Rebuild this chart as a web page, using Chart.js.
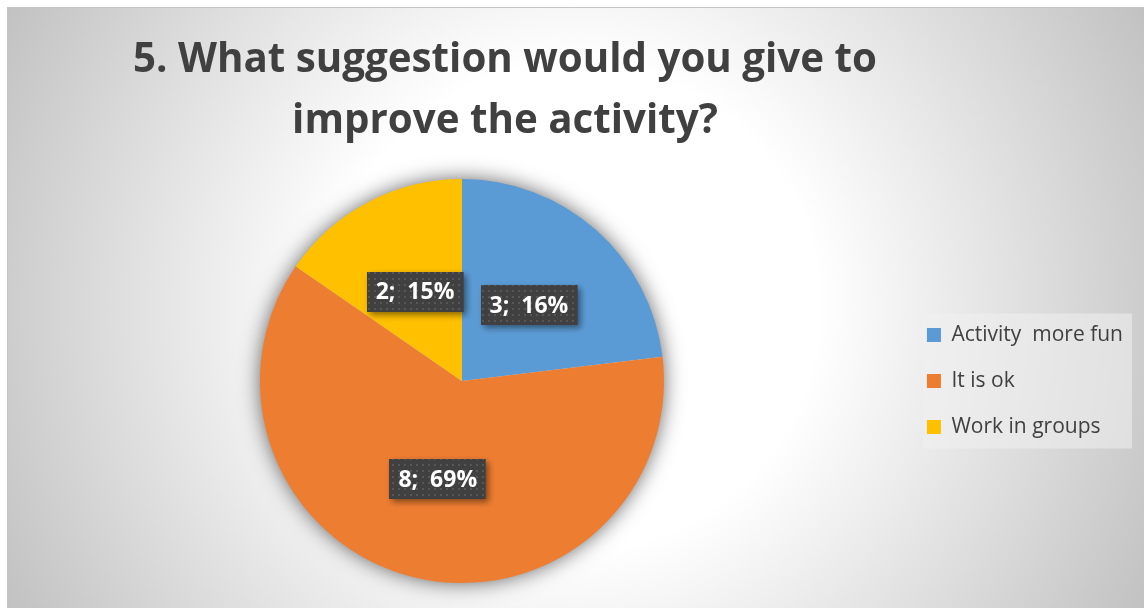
<!DOCTYPE html>
<html>
<head>
<meta charset="utf-8">
<script src="https://cdn.jsdelivr.net/npm/chart.js@4.4.1/dist/chart.umd.min.js"></script>
<style>
  html, body { margin: 0; padding: 0; background: #ffffff; }
  canvas { display: block; }
</style>
</head>
<body>
<canvas id="suggestionChart" width="1144" height="608"></canvas>
<script>
// Survey answers for question 5
const categories = ['Activity  more fun', 'It is ok', 'Work in groups'];
const counts = [3, 8, 2];
const percentText = ['16%', '69%', '15%'];
const sliceColors = ['#5B9BD5', '#ED7D31', '#FFC000'];
const titleLines = ['5. What suggestion would you give to', 'improve the activity?'];

const TEXT_DARK = '#404040';

// Grey frame with a soft white radial glow behind the pie
const backdrop = {
    id: 'backdrop',
    beforeDraw(chart) {
        const ctx = chart.ctx;
        const w = chart.width, h = chart.height;
        ctx.save();
        ctx.fillStyle = '#ffffff';
        ctx.fillRect(0, 0, w, h);

        const g = ctx.createRadialGradient(575, 307, 0, 575, 307, 640);
        g.addColorStop(0, '#ffffff');
        g.addColorStop(0.38, '#ffffff');
        g.addColorStop(1, '#c2c2c2');
        ctx.fillStyle = g;
        ctx.fillRect(7, 7, w - 7, h - 7);

        ctx.strokeStyle = '#c6c6c6';
        ctx.lineWidth = 1;
        ctx.beginPath();
        ctx.moveTo(7.5, h);
        ctx.lineTo(7.5, 7.5);
        ctx.lineTo(w, 7.5);
        ctx.stroke();

        // light panel behind the legend
        const boxes = chart.legend && chart.legend.legendHitBoxes;
        if (boxes && boxes.length) {
            const left = Math.min(...boxes.map(b => b.left)) - 4;
            const right = Math.max(...boxes.map(b => b.left + b.width)) + 9;
            const top = boxes[0].top - 11;
            const last = boxes[boxes.length - 1];
            const bottom = last.top + last.height + 11;
            ctx.fillStyle = 'rgba(240, 240, 240, 0.55)';
            ctx.fillRect(left, top, right - left, bottom - top);
        }
        ctx.restore();
    }
};

// Two-line bold title, squeezed to the narrow face width
const bigTitle = {
    id: 'bigTitle',
    afterDraw(chart) {
        const ctx = chart.ctx;
        ctx.save();
        ctx.font = 'bold 42px "Open Sans"';
        ctx.fillStyle = TEXT_DARK;
        ctx.textAlign = 'center';
        ctx.textBaseline = 'alphabetic';
        const sx = 744 / ctx.measureText(titleLines[0]).width;
        const cx = 505;
        ctx.translate(cx, 0);
        ctx.scale(sx, 1);
        ctx.fillText(titleLines[0], 0, 72);
        ctx.fillText(titleLines[1], 0, 133);
        ctx.restore();
    }
};

// Soft shadow ring around the pie
const pieShadow = {
    id: 'pieShadow',
    beforeDatasetsDraw(chart) {
        const arc = chart.getDatasetMeta(0).data[0];
        if (!arc) return;
        const ctx = chart.ctx;
        ctx.save();
        ctx.shadowColor = 'rgba(0, 0, 0, 0.7)';
        ctx.shadowBlur = 22;
        ctx.fillStyle = '#d8d8d8';
        ctx.beginPath();
        ctx.arc(arc.x, arc.y, arc.outerRadius - 2, 0, Math.PI * 2);
        ctx.fill();
        ctx.restore();
    }
};

function dotPattern(ctx) {
    const tile = document.createElement('canvas');
    tile.width = 6;
    tile.height = 6;
    const t = tile.getContext('2d');
    t.fillStyle = '#404040';
    t.fillRect(0, 0, 6, 6);
    t.fillStyle = '#575757';
    t.fillRect(2, 2, 2, 2);
    return ctx.createPattern(tile, 'repeat');
}

// Dark callout boxes with "count;  percent"
const sliceLabels = {
    id: 'sliceLabels',
    afterDatasetsDraw(chart) {
        const ctx = chart.ctx;
        const meta = chart.getDatasetMeta(0);
        const fill = dotPattern(ctx);
        ctx.save();
        ctx.font = 'bold 23px "Open Sans"';
        ctx.textAlign = 'center';
        ctx.textBaseline = 'middle';
        meta.data.forEach((arc, i) => {
            const p = arc.tooltipPosition();
            const text = counts[i] + ';  ' + percentText[i];
            const w = ctx.measureText(text).width + 18;
            const h = 40;
            const x = Math.round(p.x - w / 2);
            const y = Math.round(p.y - h / 2);

            ctx.save();
            ctx.shadowColor = 'rgba(0, 0, 0, 0.45)';
            ctx.shadowBlur = 6;
            ctx.shadowOffsetX = 3;
            ctx.shadowOffsetY = 3;
            ctx.fillStyle = fill;
            ctx.fillRect(x, y, w, h);
            ctx.restore();

            ctx.fillStyle = '#ffffff';
            ctx.fillText(text, p.x, p.y + 1);
        });
        ctx.restore();
    }
};

new Chart(document.getElementById('suggestionChart'), {
    type: 'pie',
    data: {
        labels: categories,
        datasets: [{
            data: counts,
            backgroundColor: sliceColors,
            borderWidth: 0
        }]
    },
    options: {
        responsive: false,
        devicePixelRatio: 1,
        animation: false,
        layout: { padding: { top: 179, bottom: 25, left: 22, right: 11 } },
        plugins: {
            title: { display: false },
            tooltip: { enabled: false },
            legend: {
                position: 'right',
                align: 'center',
                labels: {
                    boxWidth: 14,
                    boxHeight: 14,
                    padding: 25,
                    color: TEXT_DARK,
                    font: { family: '"Open Sans"', size: 21 }
                }
            }
        }
    },
    plugins: [backdrop, pieShadow, sliceLabels, bigTitle]
});
</script>
</body>
</html>
